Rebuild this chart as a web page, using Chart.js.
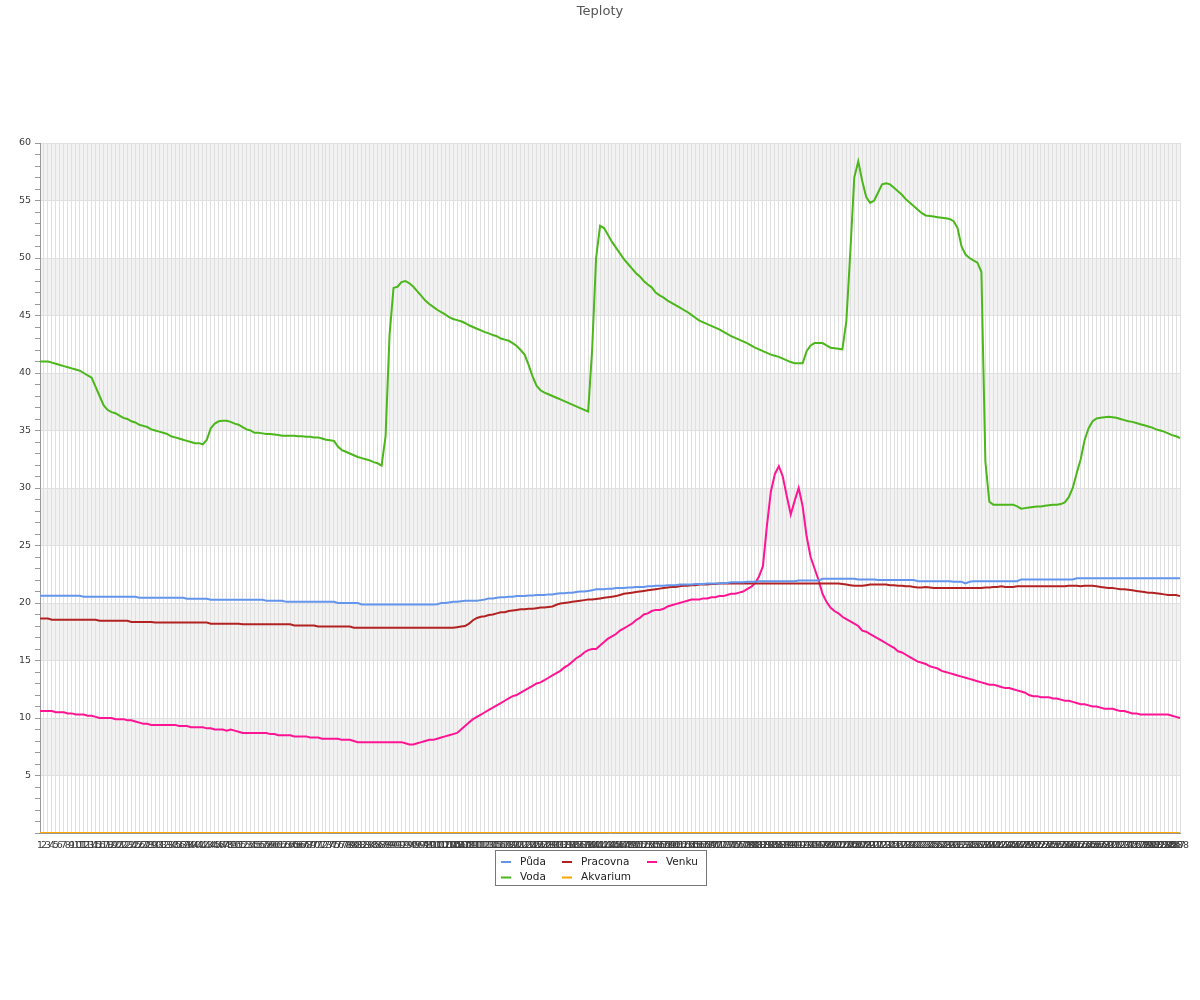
<!DOCTYPE html>
<html lang="cs">
<head>
  <meta charset="UTF-8" />
  <title>Teploty</title>
  <style>
    body { margin: 0; background: #fff; }
  </style>
</head>
<body>
  <canvas id="myChart" width="1200" height="1000"></canvas>

  <script src="https://cdn.jsdelivr.net/npm/chart.js"></script>
  <script>
const labels = [
  1,2,3,4,5,6,7,8,9,10,11,12,13,14,15,16,17,18,19,20,21,22,23,24,
  25,26,27,28,29,30,31,32,33,34,35,36,37,38,39,40,41,42,43,44,45,46,47,48,
  49,50,51,52,53,54,55,56,57,58,59,60,61,62,63,64,65,66,67,68,69,70,71,72,
  73,74,75,76,77,78,79,80,81,82,83,84,85,86,87,88,89,90,91,92,93,94,95,96,
  97,98,99,100,101,102,103,104,105,106,107,108,109,110,111,112,113,114,115,116,117,118,119,120,
  121,122,123,124,125,126,127,128,129,130,131,132,133,134,135,136,137,138,139,140,141,142,143,144,
  145,146,147,148,149,150,151,152,153,154,155,156,157,158,159,160,161,162,163,164,165,166,167,168,
  169,170,171,172,173,174,175,176,177,178,179,180,181,182,183,184,185,186,187,188,189,190,191,192,
  193,194,195,196,197,198,199,200,201,202,203,204,205,206,207,208,209,210,211,212,213,214,215,216,
  217,218,219,220,221,222,223,224,225,226,227,228,229,230,231,232,233,234,235,236,237,238,239,240,
  241,242,243,244,245,246,247,248,249,250,251,252,253,254,255,256,257,258,259,260,261,262,263,264,
  265,266,267,268,269,270,271,272,273,274,275,276,277,278,279,280,281,282,283,284,285,286,287,288
];

const puda = [
  20.63,20.63,20.63,20.63,20.63,20.63,20.63,20.63,20.63,20.63,
  20.63,20.55,20.55,20.55,20.55,20.55,20.55,20.55,20.55,20.55,
  20.55,20.55,20.55,20.55,20.55,20.46,20.46,20.46,20.46,20.46,
  20.46,20.46,20.46,20.46,20.46,20.46,20.46,20.37,20.37,20.37,
  20.37,20.37,20.37,20.28,20.28,20.28,20.28,20.28,20.28,20.28,
  20.28,20.28,20.28,20.28,20.28,20.28,20.28,20.2,20.2,20.2,
  20.2,20.2,20.1,20.1,20.1,20.1,20.1,20.1,20.1,20.1,
  20.1,20.1,20.1,20.1,20.1,20.0,20.0,20.0,20.0,20.0,
  20.0,19.88,19.88,19.88,19.88,19.88,19.88,19.88,19.88,19.88,
  19.88,19.88,19.88,19.88,19.88,19.88,19.88,19.88,19.88,19.88,
  19.9,20.0,20.0,20.05,20.1,20.1,20.15,20.2,20.2,20.2,
  20.2,20.25,20.3,20.4,20.4,20.45,20.5,20.5,20.55,20.55,
  20.6,20.6,20.6,20.65,20.65,20.7,20.7,20.7,20.75,20.75,
  20.8,20.85,20.85,20.9,20.9,20.95,21.0,21.0,21.05,21.1,
  21.2,21.2,21.2,21.25,21.25,21.3,21.3,21.3,21.35,21.35,
  21.4,21.4,21.4,21.45,21.45,21.5,21.5,21.5,21.55,21.55,
  21.55,21.6,21.6,21.6,21.6,21.65,21.65,21.65,21.7,21.7,
  21.7,21.7,21.75,21.75,21.8,21.8,21.8,21.8,21.85,21.85,
  21.85,21.9,21.9,21.9,21.9,21.9,21.9,21.9,21.9,21.9,
  21.9,21.95,21.95,21.95,21.95,21.95,21.95,22.1,22.1,22.1,
  22.1,22.1,22.1,22.1,22.1,22.1,22.05,22.05,22.05,22.05,
  22.05,22.0,22.0,22.0,22.0,22.0,22.0,22.0,22.0,22.0,
  22.0,21.9,21.9,21.9,21.9,21.9,21.9,21.9,21.9,21.9,
  21.85,21.85,21.85,21.7,21.85,21.9,21.9,21.9,21.9,21.9,
  21.9,21.9,21.9,21.9,21.9,21.9,21.9,22.05,22.05,22.05,
  22.05,22.05,22.05,22.05,22.05,22.05,22.05,22.05,22.05,22.05,
  22.05,22.15,22.15,22.15,22.15,22.15,22.15,22.15,22.15,22.15,
  22.15,22.15,22.15,22.15,22.15,22.15,22.15,22.15,22.15,22.15,
  22.15,22.15,22.15,22.15,22.15,22.15,22.15,22.15
];

const voda = [
  41.0,41.0,41.0,40.9,40.8,40.7,40.6,40.5,40.4,40.3,
  40.2,40.0,39.8,39.6,38.8,38.0,37.2,36.8,36.6,36.5,
  36.3,36.1,36.0,35.8,35.7,35.5,35.4,35.3,35.1,35.0,
  34.9,34.8,34.7,34.5,34.4,34.3,34.2,34.1,34.0,33.9,
  33.9,33.8,34.2,35.2,35.6,35.8,35.85,35.85,35.75,35.6,
  35.5,35.3,35.1,35.0,34.8,34.8,34.75,34.7,34.7,34.65,
  34.6,34.55,34.55,34.55,34.55,34.5,34.5,34.45,34.45,34.4,
  34.4,34.3,34.2,34.15,34.1,33.6,33.3,33.15,33.0,32.85,
  32.7,32.6,32.5,32.4,32.25,32.15,31.95,34.5,43.3,47.4,
  47.5,47.9,48.0,47.8,47.5,47.1,46.7,46.3,46.0,45.75,
  45.5,45.3,45.1,44.85,44.7,44.6,44.5,44.35,44.15,44.0,
  43.85,43.7,43.55,43.45,43.3,43.2,43.0,42.9,42.8,42.6,
  42.35,42.0,41.6,40.7,39.7,38.9,38.5,38.3,38.15,38.0,
  37.85,37.7,37.55,37.4,37.25,37.1,36.95,36.8,36.65,42.0,
  50.0,52.8,52.6,52.0,51.4,50.9,50.4,49.9,49.5,49.1,
  48.7,48.4,48.0,47.7,47.45,47.0,46.75,46.55,46.3,46.1,
  45.9,45.7,45.5,45.3,45.05,44.8,44.55,44.4,44.25,44.1,
  43.95,43.8,43.6,43.4,43.2,43.05,42.9,42.75,42.6,42.4,
  42.2,42.05,41.9,41.75,41.6,41.5,41.4,41.25,41.1,40.95,
  40.85,40.85,40.85,41.9,42.4,42.6,42.6,42.6,42.4,42.2,
  42.15,42.1,42.05,44.5,50.5,57.0,58.4,56.7,55.3,54.8,
  55.0,55.7,56.4,56.5,56.4,56.1,55.8,55.5,55.1,54.8,
  54.5,54.2,53.9,53.7,53.65,53.6,53.55,53.5,53.45,53.4,
  53.2,52.6,51.0,50.3,50.0,49.8,49.6,48.8,32.3,28.8,
  28.55,28.55,28.55,28.55,28.55,28.55,28.4,28.2,28.25,28.3,
  28.35,28.4,28.4,28.45,28.5,28.55,28.55,28.6,28.75,29.2,
  30.0,31.3,32.5,34.2,35.2,35.8,36.05,36.1,36.15,36.2,
  36.15,36.1,36.0,35.9,35.8,35.75,35.65,35.55,35.45,35.35,
  35.25,35.1,35.0,34.9,34.75,34.6,34.5,34.35
];

const pracovna = [
  18.65,18.65,18.65,18.55,18.55,18.55,18.55,18.55,18.55,18.55,
  18.55,18.55,18.55,18.55,18.55,18.45,18.45,18.45,18.45,18.45,
  18.45,18.45,18.45,18.35,18.35,18.35,18.35,18.35,18.35,18.3,
  18.3,18.3,18.3,18.3,18.3,18.3,18.3,18.3,18.3,18.3,
  18.3,18.3,18.3,18.2,18.2,18.2,18.2,18.2,18.2,18.2,
  18.2,18.15,18.15,18.15,18.15,18.15,18.15,18.15,18.15,18.15,
  18.15,18.15,18.15,18.15,18.05,18.05,18.05,18.05,18.05,18.05,
  17.95,17.95,17.95,17.95,17.95,17.95,17.95,17.95,17.95,17.85,
  17.85,17.85,17.85,17.85,17.85,17.85,17.85,17.85,17.85,17.85,
  17.85,17.85,17.85,17.85,17.85,17.85,17.85,17.85,17.85,17.85,
  17.85,17.85,17.85,17.85,17.85,17.9,17.95,18.0,18.2,18.5,
  18.7,18.8,18.85,18.95,19.0,19.1,19.2,19.2,19.3,19.35,
  19.4,19.45,19.45,19.5,19.5,19.55,19.6,19.6,19.65,19.7,
  19.85,19.95,20.0,20.05,20.1,20.15,20.2,20.25,20.3,20.3,
  20.35,20.4,20.45,20.5,20.55,20.6,20.7,20.8,20.85,20.9,
  20.95,21.0,21.05,21.1,21.15,21.2,21.25,21.3,21.35,21.4,
  21.4,21.45,21.5,21.5,21.55,21.55,21.6,21.6,21.6,21.65,
  21.65,21.7,21.7,21.7,21.7,21.7,21.7,21.7,21.7,21.7,
  21.7,21.7,21.7,21.7,21.7,21.7,21.7,21.7,21.7,21.7,
  21.7,21.7,21.7,21.7,21.7,21.7,21.7,21.7,21.7,21.7,
  21.7,21.7,21.65,21.6,21.55,21.5,21.5,21.5,21.55,21.6,
  21.6,21.6,21.6,21.6,21.55,21.55,21.5,21.5,21.45,21.45,
  21.4,21.35,21.35,21.4,21.35,21.3,21.3,21.3,21.3,21.3,
  21.3,21.3,21.3,21.3,21.3,21.3,21.3,21.3,21.35,21.35,
  21.4,21.4,21.45,21.4,21.4,21.4,21.45,21.45,21.45,21.45,
  21.45,21.45,21.45,21.45,21.45,21.45,21.45,21.45,21.45,21.5,
  21.5,21.5,21.45,21.5,21.5,21.5,21.45,21.4,21.35,21.3,
  21.3,21.25,21.2,21.2,21.15,21.1,21.05,21.0,20.95,20.9,
  20.9,20.85,20.8,20.75,20.7,20.7,20.7,20.6
];

const akvarium = [
  0,0,0,0,0,0,0,0,0,0,0,0, 0,0,0,0,0,0,0,0,0,0,0,0,
  0,0,0,0,0,0,0,0,0,0,0,0, 0,0,0,0,0,0,0,0,0,0,0,0,
  0,0,0,0,0,0,0,0,0,0,0,0, 0,0,0,0,0,0,0,0,0,0,0,0,
  0,0,0,0,0,0,0,0,0,0,0,0, 0,0,0,0,0,0,0,0,0,0,0,0,
  0,0,0,0,0,0,0,0,0,0,0,0, 0,0,0,0,0,0,0,0,0,0,0,0,
  0,0,0,0,0,0,0,0,0,0,0,0, 0,0,0,0,0,0,0,0,0,0,0,0,
  0,0,0,0,0,0,0,0,0,0,0,0, 0,0,0,0,0,0,0,0,0,0,0,0,
  0,0,0,0,0,0,0,0,0,0,0,0, 0,0,0,0,0,0,0,0,0,0,0,0,
  0,0,0,0,0,0,0,0,0,0,0,0, 0,0,0,0,0,0,0,0,0,0,0,0,
  0,0,0,0,0,0,0,0,0,0,0,0, 0,0,0,0,0,0,0,0,0,0,0,0,
  0,0,0,0,0,0,0,0,0,0,0,0, 0,0,0,0,0,0,0,0,0,0,0,0,
  0,0,0,0,0,0,0,0,0,0,0,0, 0,0,0,0,0,0,0,0,0,0,0,0
];

const venku = [
  10.6,10.6,10.6,10.6,10.5,10.5,10.5,10.4,10.4,10.3,
  10.3,10.3,10.2,10.2,10.1,10.0,10.0,10.0,10.0,9.9,
  9.9,9.9,9.8,9.8,9.7,9.6,9.5,9.5,9.4,9.4,
  9.4,9.4,9.4,9.4,9.4,9.3,9.3,9.3,9.2,9.2,
  9.2,9.2,9.1,9.1,9.0,9.0,9.0,8.9,9.0,8.9,
  8.8,8.7,8.7,8.7,8.7,8.7,8.7,8.7,8.6,8.6,
  8.5,8.5,8.5,8.5,8.4,8.4,8.4,8.4,8.3,8.3,
  8.3,8.2,8.2,8.2,8.2,8.2,8.1,8.1,8.1,8.0,
  7.9,7.9,7.9,7.9,7.9,7.9,7.9,7.9,7.9,7.9,
  7.9,7.9,7.8,7.7,7.7,7.8,7.9,8.0,8.1,8.1,
  8.2,8.3,8.4,8.5,8.6,8.7,9.0,9.3,9.6,9.9,
  10.1,10.3,10.5,10.7,10.9,11.1,11.3,11.5,11.7,11.9,
  12.0,12.2,12.4,12.6,12.8,13.0,13.1,13.3,13.5,13.7,
  13.9,14.1,14.4,14.6,14.9,15.2,15.4,15.7,15.9,16.0,
  16.0,16.3,16.6,16.9,17.1,17.3,17.6,17.8,18.0,18.2,
  18.5,18.7,19.0,19.1,19.3,19.4,19.4,19.5,19.7,19.8,
  19.9,20.0,20.1,20.2,20.3,20.3,20.3,20.4,20.4,20.5,
  20.5,20.6,20.6,20.7,20.8,20.8,20.9,21.0,21.2,21.4,
  21.7,22.3,23.2,26.7,29.7,31.2,31.9,31.0,29.3,27.7,
  28.9,30.0,28.4,25.8,24.0,23.0,22.0,20.8,20.1,19.6,
  19.3,19.1,18.8,18.6,18.4,18.2,18.0,17.6,17.5,17.3,
  17.1,16.9,16.7,16.5,16.3,16.1,15.8,15.7,15.5,15.3,
  15.1,14.9,14.8,14.7,14.5,14.4,14.3,14.1,14.0,13.9,
  13.8,13.7,13.6,13.5,13.4,13.3,13.2,13.1,13.0,12.9,
  12.9,12.8,12.7,12.6,12.6,12.5,12.4,12.3,12.2,12.0,
  11.9,11.9,11.8,11.8,11.8,11.7,11.7,11.6,11.5,11.5,
  11.4,11.3,11.2,11.2,11.1,11.0,11.0,10.9,10.8,10.8,
  10.8,10.7,10.6,10.6,10.5,10.4,10.4,10.3,10.3,10.3,
  10.3,10.3,10.3,10.3,10.3,10.2,10.1,10.0
];

Chart.defaults.font.family = '"DejaVu Sans", sans-serif';
Chart.defaults.color = '#3a3a3a';

// grey stripes every other 5 degrees
const bands = {
  id: 'bands',
  beforeDraw(chart) {
    const {ctx, chartArea, scales: {y}} = chart;
    ctx.save();
    ctx.fillStyle = '#f2f2f2';
    for (let v = 5; v < 60; v += 10) {
      const top = y.getPixelForValue(v + 5);
      const bottom = y.getPixelForValue(v);
      ctx.fillRect(chartArea.left, top, chartArea.right - chartArea.left, bottom - top);
    }
    ctx.restore();
  }
};

// title centred on the whole canvas + boxed legend filled column by column
const titleAndLegend = {
  id: 'titleAndLegend',
  afterDraw(chart) {
    const ctx = chart.ctx;
    ctx.save();
    ctx.font = '13px "DejaVu Sans"';
    ctx.fillStyle = '#555';
    ctx.textAlign = 'center';
    ctx.textBaseline = 'middle';
    ctx.fillText('Teploty', chart.width / 2, 11.5);

    const cols = [501, 562, 647];
    ctx.strokeStyle = '#777';
    ctx.lineWidth = 1;
    ctx.strokeRect(495.5, 850.5, 211, 35);
    ctx.font = '10.5px "DejaVu Sans"';
    ctx.textAlign = 'left';
    chart.data.datasets.forEach((ds, i) => {
      const x = cols[Math.floor(i / 2)];
      const y = 862 + (i % 2) * 15.5;
      ctx.strokeStyle = ds.borderColor;
      ctx.lineWidth = 2;
      ctx.beginPath();
      ctx.moveTo(x, y);
      ctx.lineTo(x + 10, y);
      ctx.stroke();
      ctx.fillStyle = '#222';
      ctx.fillText(ds.label, x + 19, y);
    });
    ctx.restore();
  }
};

const ctx = document.getElementById('myChart');

new Chart(ctx, {
  type: 'line',
  data: {
    labels: labels,
    datasets: [
      { label: 'Půda', data: puda, borderColor: '#6495ed', backgroundColor: '#6495ed' },
      { label: 'Voda', data: voda, borderColor: '#4bb71b', backgroundColor: '#4bb71b' },
      { label: 'Pracovna', data: pracovna, borderColor: '#b22222', backgroundColor: '#b22222' },
      { label: 'Akvarium', data: akvarium, borderColor: '#ffa500', backgroundColor: '#ffa500' },
      { label: 'Venku', data: venku, borderColor: '#ff1493', backgroundColor: '#ff1493' }
    ]
  },
  options: {
    responsive: false,
    animation: false,
    layout: { padding: { left: 0, right: 20, top: 143, bottom: 147 } },
    elements: {
      point: { radius: 0 },
      line: { borderWidth: 2, tension: 0 }
    },
    plugins: {
      legend: { display: false },
      tooltip: { enabled: false },
      title: { display: false }
    },
    scales: {
      x: {
        grid: { color: '#e0e0e0', drawTicks: false },
        border: { color: '#999' },
        ticks: { autoSkip: false, maxRotation: 0, minRotation: 0, padding: 7, font: { size: 9.5 } },
        afterFit: (s) => { s.height = 20; }
      },
      y: {
        min: 0,
        max: 60,
        grid: {
          color: (c) => c.tick.value % 5 === 0 ? '#e0e0e0' : 'rgba(0,0,0,0)',
          tickColor: '#999',
          tickLength: 5
        },
        border: { color: '#999' },
        ticks: {
          stepSize: 1,
          autoSkip: false,
          padding: 4,
          font: { size: 9.5 },
          callback: (v) => (v % 5 === 0 && v > 0) ? v : ''
        },
        afterFit: (s) => { s.width = 40; }
      }
    }
  },
  plugins: [bands, titleAndLegend]
});
  </script>
</body>
</html>
